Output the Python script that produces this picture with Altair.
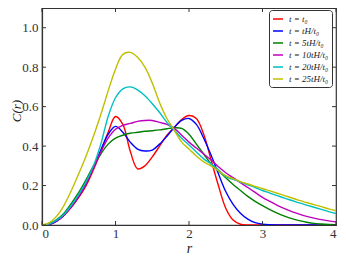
import altair as alt
import pandas as pd

r = [round(0.1 * i, 1) for i in range(41)]

labels = ["t = t₀", "t = tH/t₀", "t = 5tH/t₀", "t = 10tH/t₀", "t = 20tH/t₀", "t = 25tH/t₀"]
colors = ["#ff0000", "#0000ff", "#008000", "#bf00bf", "#00bfbf", "#bfbf00"]

c_t0 = [0, 0.003, 0.02, 0.05, 0.09, 0.14, 0.20, 0.28, 0.37, 0.47, 0.55, 0.51, 0.375, 0.285, 0.30,
        0.345, 0.40, 0.455, 0.495, 0.535, 0.555, 0.54, 0.46, 0.33, 0.20, 0.085, 0.025, 0.004, 0.0,
        0, 0, 0, 0, 0, 0, 0, 0, 0, 0, 0, 0]
c_tH = [0, 0.004, 0.02, 0.05, 0.095, 0.145, 0.21, 0.29, 0.38, 0.46, 0.50, 0.47, 0.42, 0.385, 0.375,
        0.38, 0.41, 0.45, 0.495, 0.53, 0.54, 0.51, 0.44, 0.355, 0.26, 0.17, 0.105, 0.06, 0.03, 0.012,
        0.004, 0.001, 0, 0, 0, 0, 0, 0, 0, 0, 0]
c_5 = [0, 0.006, 0.027, 0.06, 0.11, 0.165, 0.23, 0.30, 0.36, 0.41, 0.44, 0.455, 0.465, 0.47, 0.475,
       0.478, 0.482, 0.488, 0.493, 0.49, 0.46, 0.41, 0.36, 0.31, 0.275, 0.24, 0.205, 0.175, 0.145,
       0.12, 0.098, 0.078, 0.06, 0.045, 0.032, 0.022, 0.014, 0.008, 0.005, 0.003, 0.002]
c_10 = [0, 0.005, 0.022, 0.05, 0.095, 0.145, 0.21, 0.29, 0.37, 0.44, 0.485, 0.505, 0.515, 0.525,
        0.53, 0.53, 0.52, 0.51, 0.49, 0.455, 0.42, 0.39, 0.36, 0.33, 0.295, 0.265, 0.24, 0.215, 0.19,
        0.165, 0.14, 0.12, 0.10, 0.083, 0.068, 0.055, 0.044, 0.035, 0.027, 0.021, 0.016]
c_20 = [0, 0.006, 0.025, 0.055, 0.10, 0.155, 0.22, 0.30, 0.41, 0.55, 0.645, 0.69, 0.70, 0.685, 0.655,
        0.615, 0.57, 0.52, 0.48, 0.44, 0.405, 0.37, 0.335, 0.31, 0.28, 0.245, 0.232, 0.218, 0.204,
        0.19, 0.175, 0.162, 0.149, 0.136, 0.124, 0.112, 0.101, 0.09, 0.079, 0.068, 0.058]
c_25 = [0, 0.012, 0.045, 0.10, 0.175, 0.26, 0.35, 0.45, 0.56, 0.68, 0.79, 0.865, 0.875, 0.85, 0.80,
        0.72, 0.62, 0.54, 0.48, 0.42, 0.385, 0.35, 0.32, 0.30, 0.275, 0.25, 0.235, 0.22, 0.208, 0.196,
        0.185, 0.173, 0.161, 0.149, 0.137, 0.125, 0.114, 0.103, 0.093, 0.082, 0.072]

series = [c_t0, c_tH, c_5, c_10, c_20, c_25]

rows = []
for k, (lab, vals) in enumerate(zip(labels, series)):
    for rv, cv in zip(r, vals):
        rows.append({"r": rv, "C": cv, "t": lab, "k": k})
df = pd.DataFrame(rows)

x_ticks = [0, 1, 2, 3, 4]
y_ticks = [0.0, 0.2, 0.4, 0.6, 0.8, 1.0]

W, H = 294, 217
FONT = "Liberation Serif"
AX = "#333333"

xs = alt.Scale(domain=[0, 4], nice=False)
ys = alt.Scale(domain=[0, 1.1], nice=False)

lines = alt.Chart(df).mark_line(strokeWidth=1.4, interpolate="catmull-rom", clip=True).encode(
    x=alt.X("r:Q", scale=xs, title="r",
            axis=alt.Axis(values=x_ticks, format="d", tickSize=0, labelPadding=2,
                          titleFontStyle="italic", titleFontWeight="normal", titlePadding=1)),
    y=alt.Y("C:Q", scale=ys, title="C(r)",
            axis=alt.Axis(values=y_ticks, format=".1f", tickSize=0, labelPadding=4,
                          titleFontStyle="italic", titleFontWeight="normal", titleFontSize=13,
                          titleX=-26, titleY=H / 2 - 6, titleBaseline="middle")),
    color=alt.Color("t:N", scale=alt.Scale(domain=labels, range=colors), sort=labels,
                    legend=alt.Legend(title=None, orient="none", legendX=227, legendY=2,
                                      symbolType="stroke", symbolSize=100, symbolStrokeWidth=1.5,
                                      labelFont=FONT, labelFontSize=9, labelFontStyle="italic",
                                      labelColor="#222222", rowPadding=1, labelOffset=5,
                                      strokeColor=AX, fillColor="white", cornerRadius=3,
                                      padding=3)),
    order=alt.Order("k:Q"),
)

xt = pd.DataFrame({"r": x_ticks})
yt = pd.DataFrame({"C": y_ticks})

xb = alt.Chart(xt).mark_rule(color=AX, strokeWidth=1).encode(
    x=alt.X("r:Q", scale=xs), y=alt.value(H), y2=alt.value(H - 4))
xtp = alt.Chart(xt).mark_rule(color=AX, strokeWidth=1).encode(
    x=alt.X("r:Q", scale=xs), y=alt.value(0), y2=alt.value(4))
yl = alt.Chart(yt).mark_rule(color=AX, strokeWidth=1).encode(
    y=alt.Y("C:Q", scale=ys), x=alt.value(0), x2=alt.value(4))
yr = alt.Chart(yt).mark_rule(color=AX, strokeWidth=1).encode(
    y=alt.Y("C:Q", scale=ys), x=alt.value(W), x2=alt.value(W - 4))

chart = alt.layer(lines, xb, xtp, yl, yr).properties(
    width=W, height=H,
    autosize=alt.AutoSizeParams(type="none"),
    padding={"left": 34, "top": 0, "right": 2, "bottom": 36},
).configure_view(stroke=AX, strokeWidth=1.2).configure_axis(
    labelFont=FONT, labelFontSize=13, labelColor="#333333",
    titleFont=FONT, titleFontSize=14, titleColor="#222222",
    domainColor=AX, domainWidth=1.2, grid=False,
)

chart.save("out.html", embed_options={"renderer": "svg", "actions": False})
